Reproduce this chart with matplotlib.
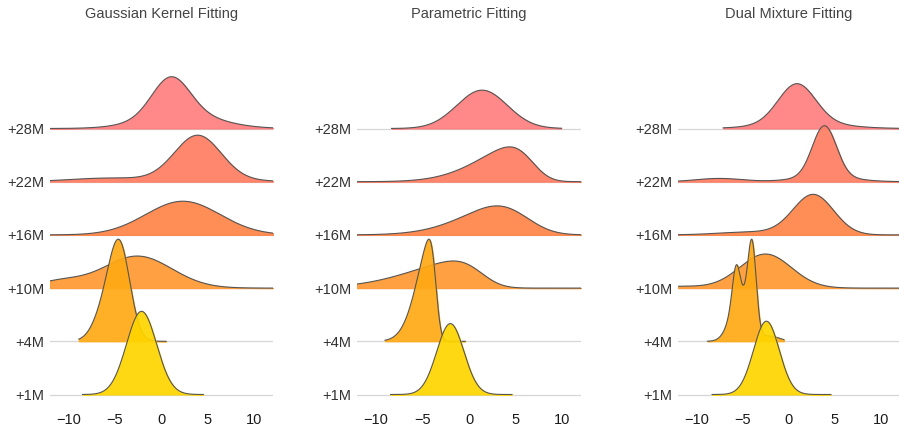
import math
import numpy as np
import matplotlib
matplotlib.use('Agg')
import matplotlib.pyplot as plt

plt.rcParams['font.family'] = ['Liberation Sans', 'DejaVu Sans']

rows = ['+1M', '+4M', '+10M', '+16M', '+22M', '+28M']
colors = ['#FFD500', '#FFA914', '#FF9933', '#FF8547', '#FF7D62', '#FF7E7E']
titles = ['Gaussian Kernel Fitting', 'Parametric Fitting', 'Dual Mixture Fitting']

# components per row: (weight, loc, scale, skew alpha)
kernel_comp = [
    [(1.0, -2.15, 1.62, 0)],
    [(0.65, -4.4, 1.1, 0), (0.35, -5.8, 1.3, 0)],
    [(0.88, -2.6, 3.7, 0), (0.12, -11.0, 2.5, 0)],
    [(1.0, 2.3, 4.0, 0)],
    [(0.82, 3.9, 2.5, 0), (0.10, -6.0, 4.0, 0), (0.08, 4.0, 5.0, 0)],
    [(0.55, 1.0, 2.0, 0), (0.45, 2.0, 4.0, 0)],
]
kernel_range = [(-8.5, 4.5), (-8.9, 0.5), (-12, 12), (-12, 12), (-12, 12), (-12, 12)]

param_comp = [
    [(1.0, -2.0, 1.46, 0)],
    [(1.0, -3.56, 1.77, -4)],
    [(1.0, 1.2, 6.5, -3.5)],
    [(1.0, 5.8, 5.3, -2)],
    [(1.0, 6.65, 4.9, -3)],
    [(1.0, 1.4, 2.7, 0)],
]
param_range = [(-8.4, 4.6), (-9.0, -0.4), (-12, 12), (-12, 12), (-12, 12), (-8.3, 9.9)]

mixture_comp = [
    [(1.0, -2.4, 1.4, 0)],
    [(0.45, -5.3, 1.0, 0), (0.13, -5.7, 0.4, 0), (0.36, -3.95, 0.45, 0), (0.05, -2.0, 1.0, 0)],
    [(0.93, -2.5, 2.8, 0), (0.05, -12.0, 3.0, 0)],
    [(0.86, 2.7, 2.2, 0), (0.10, -4.0, 3.5, 0)],
    [(0.64, 3.9, 1.3, 0), (0.16, 3.9, 3.0, 0), (0.08, -7.5, 2.5, 0)],
    [(0.75, 0.9, 2.0, 0), (0.25, 1.5, 4.0, 0)],
]
mixture_range = [(-8.3, 4.6), (-8.8, -0.5), (-12, 12), (-12, 12), (-12, 12), (-7.1, 12)]

panels = [(kernel_comp, kernel_range), (param_comp, param_range), (mixture_comp, mixture_range)]

erf = np.vectorize(math.erf)


def densidade(x, comps):
    y = np.zeros_like(x)
    for w, loc, sc, a in comps:
        z = (x - loc) / sc
        phi = np.exp(-0.5 * z ** 2) / math.sqrt(2 * math.pi)
        Phi = 0.5 * (1 + erf(a * z / math.sqrt(2)))
        y += w * 2 / sc * phi * Phi
    return y


fig = plt.figure(figsize=(8.99, 4.28), dpi=100)
W, H = 899, 428
lefts = [50, 357, 678]
widths = [223, 224, 221]
y_top, y_bot = 30, 400
base0, step = 394.5, 53.2
peak_rows = 1.92

for p, (comps, ranges) in enumerate(panels):
    ax = fig.add_axes([lefts[p] / W, (H - y_bot) / H, widths[p] / W, (y_bot - y_top) / H])
    curvas = []
    for i in range(len(rows)):
        lo, hi = ranges[i]
        x = np.linspace(lo, hi, 400)
        curvas.append((x, densidade(x, comps[i])))
    escala = peak_rows / max(d.max() for _, d in curvas)

    for i in reversed(range(len(rows))):
        x, d = curvas[i]
        z = 10 + (len(rows) - i) * 3
        ax.axhline(i, color='#d6d6d6', lw=0.9, zorder=z - 1)
        ax.fill_between(x, i, i + d * escala, facecolor=colors[i], edgecolor=colors[i],
                        lw=0.8, alpha=0.92, zorder=z)
        ax.plot(x, i + d * escala, color='#555555', lw=0.8, zorder=z + 1)

    ax.set_xlim(-12, 12)
    ax.set_ylim((base0 - y_bot) / step, (base0 - y_top) / step)
    ax.set_yticks(range(len(rows)))
    ax.set_yticklabels(rows, fontsize=10.5, color='#333333')
    ax.set_xticks([-10, -5, 0, 5, 10])
    ax.tick_params(axis='x', length=0, pad=9, labelsize=10.5, labelcolor='#1a1a1a')
    ax.tick_params(axis='y', length=0, pad=4)
    for s in ax.spines.values():
        s.set_visible(False)
    ax.patch.set_alpha(0)
    fig.text((lefts[p] + widths[p] / 2) / W, 1 - 14 / H, titles[p], ha='center', va='center',
             fontsize=10.5, color='#444444')

fig.savefig('out.png', dpi=100)
